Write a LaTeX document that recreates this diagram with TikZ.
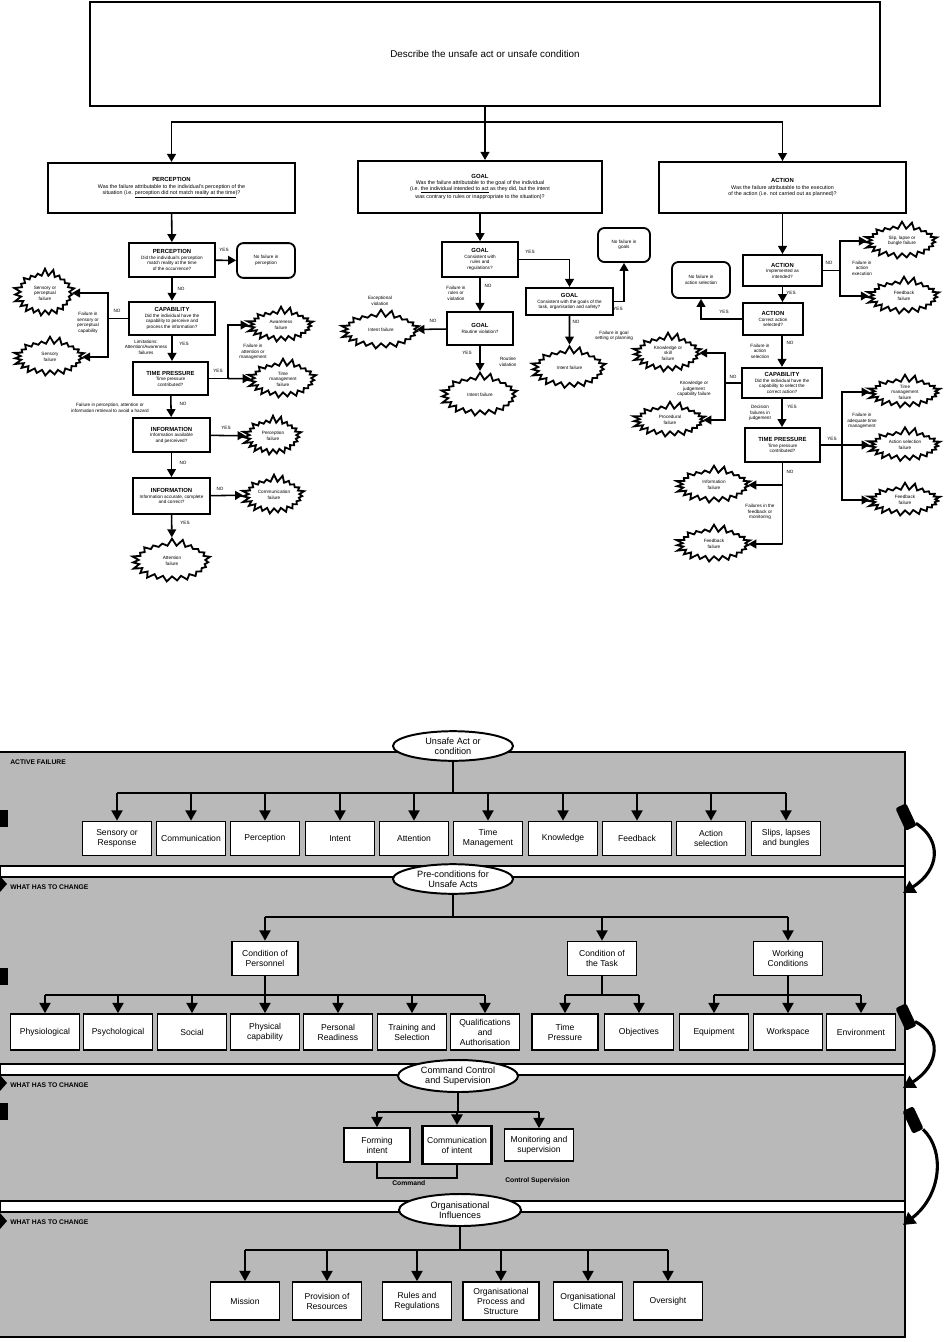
\documentclass[tikz,border=0pt]{standalone}
\usepackage{fontspec}
\setmainfont{Liberation Sans}
\usetikzlibrary{arrows.meta,positioning,shapes.geometric,shapes.symbols}
\definecolor{ink}{HTML}{000000}
\definecolor{panel}{HTML}{B9B9B9}
\newcommand\ftop{\fontsize{7}{8}\selectfont}
\newcommand\fqhead{\fontsize{4.2}{4.8}\selectfont\bfseries}
\newcommand\fqbody{\fontsize{3.3}{3.9}\selectfont}
\newcommand\fqwide{\fontsize{3.8}{4.4}\selectfont}
\newcommand\fstage{\fontsize{6.1}{7.1}\selectfont}
\newcommand\fhub{\fontsize{6.5}{7.3}\selectfont}
\newcommand\fband{\fontsize{4.8}{5.2}\selectfont\bfseries}
\tikzset{
  >={Triangle[length=2mm,width=2.2mm]},
  bigq/.style={draw=ink,line width=1.5pt,fill=white,inner sep=1pt,align=center,font=\fqwide},
  qbox/.style={draw=ink,line width=1.3pt,fill=white,inner sep=1pt,align=center,font=\fqbody},
  endbox/.style={draw=ink,line width=1.3pt,fill=white,rounded corners=1.6mm,inner sep=1pt,align=center,font=\fqbody},
  burst/.style={starburst,starburst points=23,starburst point height=1.9mm,random starburst=7,
    draw=ink,line width=1.3pt,fill=white,inner sep=0pt,align=center,font=\fqbody},
  flow/.style={->,line width=1.1pt,color=ink},
  link/.style={line width=1.1pt,color=ink},
  yn/.style={font=\fqbody,inner sep=.5pt},
  why/.style={font=\fqbody,align=center,inner sep=.5pt},
  hub/.style={ellipse,draw=ink,line width=1.4pt,fill=white,inner sep=0pt,align=center,font=\fhub,
    minimum width=3cm,minimum height=.74cm},
  stage/.style={draw=ink,line width=1.2pt,fill=white,inner sep=1pt,align=center,font=\fstage,
    minimum width=1.72cm,minimum height=.85cm},
  drop/.style={-{Triangle[length=2.6mm,width=2.8mm]},line width=1.3pt,color=ink},
  bandtitle/.style={font=\fband,anchor=west,inner sep=0pt},
  tagbox/.style={fill=ink,rounded corners=.6mm,minimum width=.62cm,minimum height=.3cm,inner sep=0pt},
  turn/.style={-{Triangle[length=3mm,width=3.4mm]},line width=2.2pt,color=ink},
}
\begin{document}
\begin{tikzpicture}[x=0.025cm,y=-0.025cm]
  \useasboundingbox (0,0) rectangle (948,1342);

  \node[bigq,minimum width=19.75cm,minimum height=2.62cm,font=\ftop] (unsafe) at (485,54)
    {Describe the unsafe act or unsafe condition};
  \coordinate (split) at (485,122);

  \node[bigq,minimum width=6.17cm,minimum height=1.25cm] (perc) at (171.5,188)
    {{\fqhead PERCEPTION}\\Was the failure attributable to the individual's perception of the\\
     situation (i.e. \underline{perception did not match reality at the time})?};
  \node[bigq,minimum width=6.1cm,minimum height=1.3cm] (goal) at (480,187)
    {{\fqhead GOAL}\\Was the failure attributable to the goal of the individual\\
     (i.e. \underline{the individual intended to act} as they did, but the intent\\
     was contrary to rules or inappropriate to the situation)?};
  \node[bigq,minimum width=6.17cm,minimum height=1.27cm] (act) at (782.5,187.5)
    {{\fqhead ACTION}\\Was the failure attributable to the execution\\
     of the action (i.e. not carried out as planned)?};
  \draw[link] (unsafe) -- (split);
  \draw[flow] (split) -| (perc);
  \draw[flow] (split) -- (split |- goal.north);
  \draw[flow] (split) -| (act);

  % perception
  \node[qbox,minimum width=2.15cm,minimum height=.85cm] (percQ) at (172,260)
    {{\fqhead PERCEPTION}\\Did the individual's perception\\match reality at the time\\of the occurrence?};
  \node[endbox,minimum width=1.45cm,minimum height=.87cm] (percOK) at (266,260.5) {No failure in\\perception};
  \node[qbox,line width=1.6pt,minimum width=2.15cm,minimum height=.83cm] (capQ) at (172,318.5)
    {{\fqhead CAPABILITY}\\Did the individual have the\\capability to perceive and\\process the information?};
  \node[burst,minimum width=1.6cm,minimum height=1.25cm] (sensA) at (45,293) {Sensory or\\perceptual\\failure};
  \node[burst,minimum width=1.85cm,minimum height=1.05cm] (sensB) at (50,357) {Sensory\\failure};
  \node[qbox,minimum width=1.88cm,minimum height=.83cm] (timeQ) at (170.5,378.5)
    {{\fqhead TIME PRESSURE}\\Time pressure\\contributed?};
  \node[burst,minimum width=1.75cm,minimum height=.95cm] (awareF) at (281,325) {Awareness\\failure};
  \node[burst,minimum width=1.8cm,minimum height=1.05cm] (timeF) at (283,379) {Time\\management\\failure};
  \node[qbox,minimum width=1.93cm,minimum height=.85cm] (infoQ) at (171.5,435)
    {{\fqhead INFORMATION}\\Information available\\and perceived?};
  \node[burst,minimum width=1.55cm,minimum height=1.05cm] (percF) at (273,436) {Perception\\failure};
  \node[qbox,minimum width=1.93cm,minimum height=.9cm] (infoR) at (171.5,496)
    {{\fqhead INFORMATION}\\Information accurate, complete\\and correct?};
  \node[burst,minimum width=1.65cm,minimum height=1.05cm] (commF) at (274,495) {Communication\\failure};
  \node[burst,minimum width=2.05cm,minimum height=1.15cm] (attnF) at (172,561) {Attention\\failure};

  \draw[flow] (perc) -- (percQ);
  \draw[flow] (percQ) -- (percOK);
  \node[yn] at (224,250) {YES};
  \draw[flow] (percQ) -- (capQ);
  \node[yn] at (181,289) {NO};
  \coordinate (capL) at (108,318.5);
  \draw[link] (capQ) -- (capL);
  \draw[flow] (capL) |- (sensA);
  \draw[flow] (capL) |- (sensB);
  \node[yn] at (117,311) {NO};
  \node[why] at (88,323) {Failure in\\sensory or\\perceptual\\capability};
  \draw[flow] (capQ) -- (capQ |- timeQ.north);
  \node[yn] at (184,344) {YES};
  \node[why] at (146,347) {Limitations:\\Attention/Awareness\\failures};
  \coordinate (timeR) at (228,378.5);
  \draw[link] (timeQ) -- (timeR);
  \draw[flow] (timeR) |- (awareF);
  \draw[flow] (timeR) -- (timeF);
  \node[yn] at (218,371) {YES};
  \node[why] at (253,352) {Failure in\\attention or\\management};
  \draw[flow] (timeQ) -- (infoQ);
  \node[yn] at (183,404) {NO};
  \node[why] at (110,408) {Failure in perception, attention or\\information retrieval to avoid a hazard};
  \draw[flow] (infoQ) -- (percF);
  \node[yn] at (226,428) {YES};
  \draw[flow] (infoQ) -- (infoR);
  \node[yn] at (183,463) {NO};
  \draw[flow] (infoR) -- (commF);
  \node[yn] at (220,489) {NO};
  \draw[flow] (infoR) -- (attnF);
  \node[yn] at (185,523) {YES};

  % goal
  \node[qbox,minimum width=1.88cm,minimum height=.87cm] (goalQ) at (480,259.5)
    {{\fqhead GOAL}\\Consistent with\\rules and\\regulations?};
  \node[qbox,minimum width=2.18cm,minimum height=.68cm] (goalS) at (569.5,301.5)
    {{\fqhead GOAL}\\Consistent with the goals of the\\task, organisation and safety?};
  \node[endbox,minimum width=1.3cm,minimum height=.85cm] (goalOK) at (624,245) {No failure in\\goals};
  \node[qbox,minimum width=1.65cm,minimum height=.83cm] (goalR) at (480,328.5)
    {{\fqhead GOAL}\\Routine violation?};
  \node[burst,minimum width=2.05cm,minimum height=1.05cm] (intentA) at (381,330) {Intent failure};
  \node[burst,minimum width=2cm,minimum height=1.15cm] (intentB) at (480,395) {Intent failure};
  \node[burst,minimum width=1.95cm,minimum height=1.12cm] (intentC) at (569.5,368) {Intent failure};

  \draw[flow] (goal) -- (goalQ);
  \draw[flow] (goalQ) -| (goalS);
  \node[yn] at (530,252) {YES};
  \draw[flow] (goalS) -| (goalOK);
  \node[yn] at (618,309) {YES};
  \draw[flow] (goalS) -- (intentC);
  \node[yn] at (576,322) {NO};
  \node[why] at (614,336) {Failure in goal\\setting or planning};
  \draw[flow] (goalQ) -- (goalR);
  \node[yn] at (488,286) {NO};
  \node[why] at (456,293) {Failure in\\rules or\\violation};
  \draw[flow] (goalR) -- (intentA);
  \node[yn] at (433,321) {NO};
  \node[why] at (380,301) {Exceptional\\violation};
  \draw[flow] (goalR) -- (intentB);
  \node[yn] at (467,353) {YES};
  \node[why] at (508,362) {Routine\\violation};

  % action
  \node[qbox,minimum width=1.98cm,minimum height=.78cm] (actQ) at (782.5,270.5)
    {{\fqhead ACTION}\\Implemented as\\intended?};
  \node[burst,minimum width=1.9cm,minimum height=1cm] (slipF) at (902,241) {Slip, lapse or\\bungle failure};
  \node[burst,minimum width=1.9cm,minimum height=1cm] (fbA) at (904,296) {Feedback\\failure};
  \node[qbox,minimum width=1.5cm,minimum height=.8cm] (actS) at (773,319)
    {{\fqhead ACTION}\\Correct action\\selected?};
  \node[endbox,minimum width=1.45cm,minimum height=.9cm] (actOK) at (701,280) {No failure in\\action selection};
  \node[qbox,line width=1.6pt,minimum width=2cm,minimum height=.75cm] (capA) at (782,383)
    {{\fqhead CAPABILITY}\\Did the individual have the\\capability to select the\\correct action?};
  \node[burst,minimum width=1.8cm,minimum height=1.05cm] (knowA) at (668,353) {Knowledge or\\skill\\failure};
  \node[burst,minimum width=1.9cm,minimum height=.95cm] (knowB) at (670,420) {Procedural\\failure};
  \node[qbox,minimum width=1.88cm,minimum height=.85cm] (timeA) at (782.5,445)
    {{\fqhead TIME PRESSURE}\\Time pressure\\contributed?};
  \node[burst,minimum width=1.9cm,minimum height=.9cm] (timeB) at (905,392) {Time\\management\\failure};
  \node[burst,minimum width=1.9cm,minimum height=.92cm] (selF) at (905,445) {Action selection\\failure};
  \node[burst,minimum width=1.9cm,minimum height=.9cm] (fbB) at (905,500) {Feedback\\failure};
  \node[burst,minimum width=1.95cm,minimum height=1cm] (infoF) at (714,485) {Information\\failure};
  \node[burst,minimum width=1.95cm,minimum height=1cm] (fbC) at (714,544) {Feedback\\failure};

  \draw[flow] (act) -- (actQ);
  \coordinate (actR) at (840,270.5);
  \draw[link] (actQ) -- (actR);
  \draw[flow] (actR) |- (slipF);
  \draw[flow] (actR) |- (fbA);
  \node[yn] at (829,263) {NO};
  \node[why] at (862,268) {Failure in\\action\\execution};
  \draw[flow] (actQ.south) -- (actQ.south |- actS.north);
  \node[yn] at (791,293) {YES};
  \draw[flow] (actS) -| (actOK);
  \node[yn] at (724,312) {YES};
  \draw[flow] (capA |- actS.south) -- (capA);
  \node[yn] at (790,343) {NO};
  \node[why] at (760,351) {Failure in\\action\\selection};
  \coordinate (capAL) at (725,383);
  \draw[link] (capA) -- (capAL);
  \draw[flow] (capAL) |- (knowA);
  \draw[flow] (capAL) |- (knowB);
  \node[yn] at (733,377) {NO};
  \node[why] at (694,389) {Knowledge or\\judgement\\capability failure};
  \draw[flow] (capA) -- (capA |- timeA.north);
  \node[yn] at (792,407) {YES};
  \node[why] at (760,413) {Decision\\failures in\\judgement};
  \coordinate (timeAR) at (842,445);
  \draw[link] (timeA) -- (timeAR);
  \draw[flow] (timeAR) |- (timeB);
  \draw[flow] (timeAR) -- (selF);
  \draw[flow] (timeAR) |- (fbB);
  \node[yn] at (832,439) {YES};
  \node[why] at (862,421) {Failure in\\adequate time\\management};
  \coordinate (timeAM) at (782.5,485);
  \coordinate (timeAD) at (782.5,544);
  \draw[link] (timeA) -- (timeAD);
  \draw[flow] (timeAM) -- (infoF);
  \draw[flow] (timeAD) -- (fbC);
  \node[yn] at (790,472) {NO};
  \node[why] at (760,512) {Failures in the\\feedback or\\monitoring};

  % layered model
  \fill[panel] (0,752) rectangle (905,1337);
  \draw[line width=1pt] (0,752) -- (905,752) -- (905,1337) -- (0,1337);
  \foreach \ya/\yb in {866/877,1064/1075,1201/1212}
    \draw[line width=1pt,fill=white] (0,\ya) rectangle (905,\yb);
  \foreach \yy in {810,968,1103}
    \fill[ink] (0,\yy) rectangle (8,\yy+17);
  \foreach \yy in {884,1083,1221}
    \fill[ink] (0,\yy-8) -- (7,\yy) -- (0,\yy+8) -- cycle;
  \node[bandtitle] at (10,762) {ACTIVE FAILURE};
  \node[bandtitle] at (10,887) {WHAT HAS TO CHANGE};
  \node[bandtitle] at (10,1085) {WHAT HAS TO CHANGE};
  \node[bandtitle] at (10,1222) {WHAT HAS TO CHANGE};

  \node[hub] (acts) at (453,746) {Unsafe Act or\\condition};
  \node[stage] (af1) at (117,838.5) {Sensory or\\Response};
  \node[stage] (af2) at (191,838.5) {Communication};
  \node[stage] (af3) at (265,838.5) {Perception};
  \node[stage] (af4) at (340,838.5) {Intent};
  \node[stage] (af5) at (414,838.5) {Attention};
  \node[stage] (af6) at (488,838.5) {Time\\Management};
  \node[stage] (af7) at (563,838.5) {Knowledge};
  \node[stage] (af8) at (637,838.5) {Feedback};
  \node[stage] (af9) at (711,838.5) {Action\\selection};
  \node[stage] (af10) at (786,838.5) {Slips, lapses\\and bungles};
  \coordinate (actsBus) at (453,793);
  \draw[link,line width=1.3pt] (acts) -- (actsBus);
  \draw[link,line width=1.3pt] (af1 |- actsBus) -- (af10 |- actsBus);
  \foreach \i in {1,...,10}
    \draw[drop] (af\i |- actsBus) -- (af\i);

  \node[hub] (pre) at (453,879) {Pre-conditions for\\Unsafe Acts};
  \node[stage,minimum width=1.65cm] (pc1) at (265,958.5) {Condition of\\Personnel};
  \node[stage] (pc2) at (602,958.5) {Condition of\\the Task};
  \node[stage] (pc3) at (788,958.5) {Working\\Conditions};
  \coordinate (preBus) at (453,917);
  \draw[link,line width=1.3pt] (pre) -- (preBus);
  \draw[link,line width=1.3pt] (pc1 |- preBus) -- (pc3 |- preBus);
  \foreach \i in {1,2,3}
    \draw[drop] (pc\i |- preBus) -- (pc\i);

  \node[stage,minimum height=.9cm] (cp1) at (45,1032) {Physiological};
  \node[stage,minimum height=.9cm] (cp2) at (118,1032) {Psychological};
  \node[stage,minimum height=.9cm] (cp3) at (192,1032) {Social};
  \node[stage,minimum height=.9cm] (cp4) at (265,1032) {Physical\\capability};
  \node[stage,minimum height=.9cm] (cp5) at (338,1032) {Personal\\Readiness};
  \node[stage,minimum height=.9cm] (cp6) at (412,1032) {Training and\\Selection};
  \node[stage,minimum height=.9cm] (cp7) at (485,1032) {Qualifications\\and\\Authorisation};
  \node[stage,minimum width=1.65cm,minimum height=.9cm] (ct1) at (565,1032) {Time\\Pressure};
  \node[stage,minimum height=.9cm] (ct2) at (639,1032) {Objectives};
  \node[stage,minimum height=.9cm] (cw1) at (714,1032) {Equipment};
  \node[stage,minimum height=.9cm] (cw2) at (788,1032) {Workspace};
  \node[stage,minimum height=.9cm] (cw3) at (861,1032) {Environment};
  \coordinate (cpBus) at (265,995);
  \coordinate (ctBus) at (602,995);
  \coordinate (cwBus) at (788,995);
  \draw[link,line width=1.3pt] (pc1) -- (cpBus);
  \draw[link,line width=1.3pt] (pc2) -- (ctBus);
  \draw[link,line width=1.3pt] (pc3) -- (cwBus);
  \draw[link,line width=1.3pt] (cp1 |- cpBus) -- (cp7 |- cpBus);
  \draw[link,line width=1.3pt] (ct1 |- ctBus) -- (ct2 |- ctBus);
  \draw[link,line width=1.3pt] (cw1 |- cwBus) -- (cw3 |- cwBus);
  \foreach \i in {1,...,7}
    \draw[drop] (cp\i |- cpBus) -- (cp\i);
  \foreach \i in {1,2}
    \draw[drop] (ct\i |- ctBus) -- (ct\i);
  \foreach \i in {1,2,3}
    \draw[drop] (cw\i |- cwBus) -- (cw\i);

  \node[hub,minimum height=.8cm] (cmd) at (458,1076) {Command Control\\and Supervision};
  \node[stage,minimum width=1.65cm] (cs1) at (377,1145) {Forming\\intent};
  \node[stage,line width=1.6pt,minimum height=.95cm] (cs2) at (457,1145) {Communication\\of intent};
  \node[stage,minimum height=.8cm] (cs3) at (539,1145) {Monitoring and\\supervision};
  \coordinate (cmdBus) at (458,1112);
  \draw[link,line width=1.3pt] (cmd) -- (cmdBus);
  \draw[link,line width=1.3pt] (cs1 |- cmdBus) -- (cs3 |- cmdBus);
  \foreach \i in {1,2,3}
    \draw[drop] (cs\i |- cmdBus) -- (cs\i);
  \coordinate (cmdL) at (377,1178);
  \coordinate (cmdR) at (457,1178);
  \draw[link] (cs1) -- (cmdL) -- (cmdR) -- (cs2);
  \node[bandtitle] at (392,1183) {Command};
  \node[bandtitle] at (505,1181) {Control Supervision};

  \node[hub,minimum width=3.05cm,minimum height=.8cm] (org) at (460,1210) {Organisational\\Influences};
  \node[stage,minimum height=.95cm] (oi1) at (245,1301) {Mission};
  \node[stage,minimum height=.95cm] (oi2) at (327,1301) {Provision of\\Resources};
  \node[stage,minimum height=.95cm] (oi3) at (417,1301) {Rules and\\Regulations};
  \node[stage,minimum width=1.9cm,minimum height=.95cm] (oi4) at (501,1301) {Organisational\\Process and\\Structure};
  \node[stage,minimum height=.95cm] (oi5) at (588,1301) {Organisational\\Climate};
  \node[stage,minimum height=.95cm] (oi6) at (668,1301) {Oversight};
  \coordinate (orgBus) at (460,1250);
  \draw[link,line width=1.3pt] (org) -- (orgBus);
  \draw[link,line width=1.3pt] (oi1 |- orgBus) -- (oi6 |- orgBus);
  \foreach \i in {1,...,6}
    \draw[drop] (oi\i |- orgBus) -- (oi\i);

  % loops on the right
  \node[tagbox,rotate=-65] (tag1) at (906,817) {};
  \node[tagbox,rotate=-65] (tag2) at (906,1017) {};
  \node[tagbox,rotate=-65] (tag3) at (913,1120) {};
  \coordinate (back1) at (903,893);
  \coordinate (back2) at (903,1088);
  \coordinate (back3) at (903,1225);
  \draw[turn] (tag1) .. controls (942,840) and (940,870) .. (back1);
  \draw[turn] (tag2) .. controls (942,1035) and (940,1065) .. (back2);
  \draw[turn] (tag3) .. controls (945,1150) and (942,1195) .. (back3);
\end{tikzpicture}
\end{document}
